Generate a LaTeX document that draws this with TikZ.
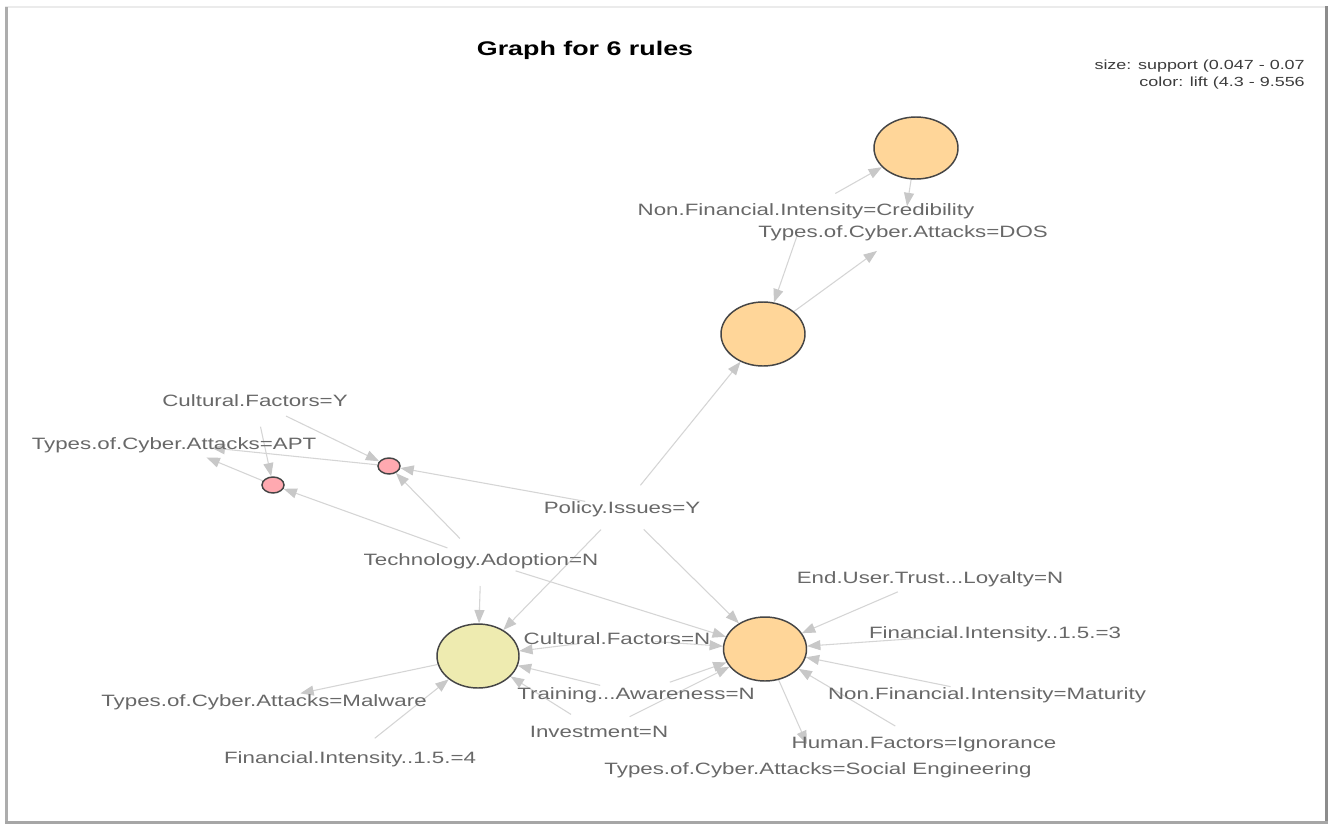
\documentclass[tikz,border=0pt]{standalone}
\usepackage{fontspec}
\setmainfont{Liberation Sans}
\usepackage{graphicx}
\usetikzlibrary{shapes.geometric, arrows.meta}

\definecolor{edgegray}{HTML}{D5D5D5}
\definecolor{tipgray}{HTML}{C8C8C8}
\definecolor{labelgray}{HTML}{686868}
\definecolor{legendgray}{HTML}{3C3C3C}
\definecolor{rulestroke}{HTML}{454545}
\definecolor{peach}{HTML}{FFD699}
\definecolor{paleyellow}{HTML}{EEEBB0}
\definecolor{rosepink}{HTML}{FFA9B0}

% the plot device is wider than tall, so every glyph is stretched sideways
\newcommand{\wide}[1]{\scalebox{1.36}[1]{#1}}

\pgfdeclarelayer{back}
\pgfsetlayers{back,main}

\tikzset{
  rulenode/.style={ellipse, draw=rulestroke, line width=1.1pt, inner sep=0pt},
  itemclip/.style={ellipse, inner sep=0pt, outer sep=0pt,
                   minimum width=57pt, minimum height=39pt},
  itemtext/.style={font=\fontsize{12.3}{14}\selectfont, text=labelgray,
                   inner sep=0pt, text height=8.8pt, text depth=0pt},
  ruleedge/.style={draw=edgegray, line width=0.8pt,
                   -{Triangle[length=10pt, width=7.5pt, color=tipgray]}},
}

\begin{document}
\begin{tikzpicture}[x=0.75pt, y=-0.75pt]
\useasboundingbox (0,0) rectangle (1331,825);

% ---- title and legend ----
\node[font=\bfseries\fontsize{14.8}{17}\selectfont, text=black, inner sep=0pt,
      text height=10.6pt, text depth=0pt] (title) at (585,48.5) {\wide{Graph for 6 rules}};
\node[font=\fontsize{9.9}{12}\selectfont, text=legendgray, inner sep=0pt, anchor=base east]
      (legsize) at (1305,69.5) {\wide{size: support (0.047 - 0.07}};
\node[font=\fontsize{9.9}{12}\selectfont, text=legendgray, inner sep=0pt, anchor=base east]
      (legcolor) at (1305,86) {\wide{color: lift (4.3 - 9.556}};

% ---- rule vertices ----
\node[rulenode, fill=peach, minimum width=63pt, minimum height=46.5pt] (rA) at (916,148) {};
\node[rulenode, fill=peach, minimum width=63pt, minimum height=48pt]   (rB) at (763,334) {};
\node[rulenode, fill=rosepink, minimum width=16.5pt, minimum height=12pt] (rP1) at (389,466) {};
\node[rulenode, fill=rosepink, minimum width=16.5pt, minimum height=12pt] (rP2) at (273,485) {};
\node[rulenode, fill=paleyellow, minimum width=61.5pt, minimum height=48pt] (rY) at (478,656) {};
\node[rulenode, fill=peach, minimum width=62.25pt, minimum height=48pt] (rO) at (765,649) {};

% ---- item vertices: a clearance ellipse plus the printed item ----
\node[itemclip] (cred) at (806,210) {};
\node[itemtext] (credT) at (cred) {\wide{Non.Financial.Intensity=Credibility}};
\node[itemclip] (dos) at (903,232) {};
\node[itemtext] (dosT) at (dos) {\wide{Types.of.Cyber.Attacks=DOS}};
\node[itemclip] (cfy) at (255,401) {};
\node[itemtext] (cfyT) at (cfy) {\wide{Cultural.Factors=Y}};
\node[itemclip] (apt) at (174,444) {};
\node[itemtext] (aptT) at (apt) {\wide{Types.of.Cyber.Attacks=APT}};
\node[itemclip] (pol) at (622,508) {};
\node[itemtext] (polT) at (pol) {\wide{Policy.Issues=Y}};
\node[itemclip] (tech) at (481,560) {};
\node[itemtext] (techT) at (tech) {\wide{Technology.Adoption=N}};
\node[itemclip] (eut) at (930,578) {};
\node[itemtext] (eutT) at (eut) {\wide{End.User.Trust...Loyalty=N}};
\node[itemclip] (fi3) at (995,633) {};
\node[itemtext] (fi3T) at (fi3) {\wide{Financial.Intensity..1.5.=3}};
\node[itemclip] (nfm) at (987,694) {};
\node[itemtext] (nfmT) at (nfm) {\wide{Non.Financial.Intensity=Maturity}};
\node[itemclip] (hfi) at (924,743) {};
\node[itemtext] (hfiT) at (hfi) {\wide{Human.Factors=Ignorance}};
\node[itemclip] (se) at (818,769) {};
\node[itemtext] (seT) at (se) {\wide{Types.of.Cyber.Attacks=Social Engineering}};
\node[itemclip] (cfn) at (617,639) {};
\node[itemtext] (cfnT) at (cfn) {\wide{Cultural.Factors=N}};
\node[itemclip] (tra) at (636,694) {};
\node[itemtext] (traT) at (tra) {\wide{Training...Awareness=N}};
\node[itemclip] (inv) at (599,732) {};
\node[itemtext] (invT) at (inv) {\wide{Investment=N}};
\node[itemclip] (mal) at (264,701) {};
\node[itemtext] (malT) at (mal) {\wide{Types.of.Cyber.Attacks=Malware}};
\node[itemclip] (fi4) at (350,758) {};
\node[itemtext] (fi4T) at (fi4) {\wide{Financial.Intensity..1.5.=4}};

\begin{pgfonlayer}{back}
  % panel with its shaded rim
  \fill[white] (0,0) rectangle (1331,825);
  \draw[draw=black!8, line width=1.5pt] (5,7) -- (1327,7);
  \draw[draw=black!32, line width=2.2pt] (6.5,823) -- (6.5,7);
  \draw[draw=black!45, line width=2.4pt] (1326.5,6) -- (1326.5,824);
  \draw[draw=black!35, line width=2.2pt] (5,822.5) -- (1328,822.5);

  % rule 1 and 2
  \draw[ruleedge] (cred) -- (rA);
  \draw[ruleedge] (rA) -- (dos);
  \draw[ruleedge] (cred) -- (rB);
  \draw[ruleedge] (pol) -- (rB);
  \draw[ruleedge] (rB) -- (dos);
  % rules 3 and 4
  \draw[ruleedge] (cfy) -- (rP1);
  \draw[ruleedge] (pol) -- (rP1);
  \draw[ruleedge] (tech) -- (rP1);
  \draw[ruleedge] (rP1) -- (apt);
  \draw[ruleedge] (cfy) -- (rP2);
  \draw[ruleedge] (tech) -- (rP2);
  \draw[ruleedge] (rP2) -- (apt);
  % rule 5
  \draw[ruleedge] (tech) -- (rY);
  \draw[ruleedge] (pol) -- (rY);
  \draw[ruleedge] (cfn) -- (rY);
  \draw[ruleedge] (tra) -- (rY);
  \draw[ruleedge] (inv) -- (rY);
  \draw[ruleedge] (fi4) -- (rY);
  \draw[ruleedge] (rY) -- (mal);
  % rule 6
  \draw[ruleedge] (tech) -- (rO);
  \draw[ruleedge] (pol) -- (rO);
  \draw[ruleedge] (cfn) -- (rO);
  \draw[ruleedge] (tra) -- (rO);
  \draw[ruleedge] (inv) -- (rO);
  \draw[ruleedge] (eut) -- (rO);
  \draw[ruleedge] (fi3) -- (rO);
  \draw[ruleedge] (nfm) -- (rO);
  \draw[ruleedge] (hfi) -- (rO);
  \draw[ruleedge] (rO) -- (se);
\end{pgfonlayer}
\end{tikzpicture}
\end{document}
